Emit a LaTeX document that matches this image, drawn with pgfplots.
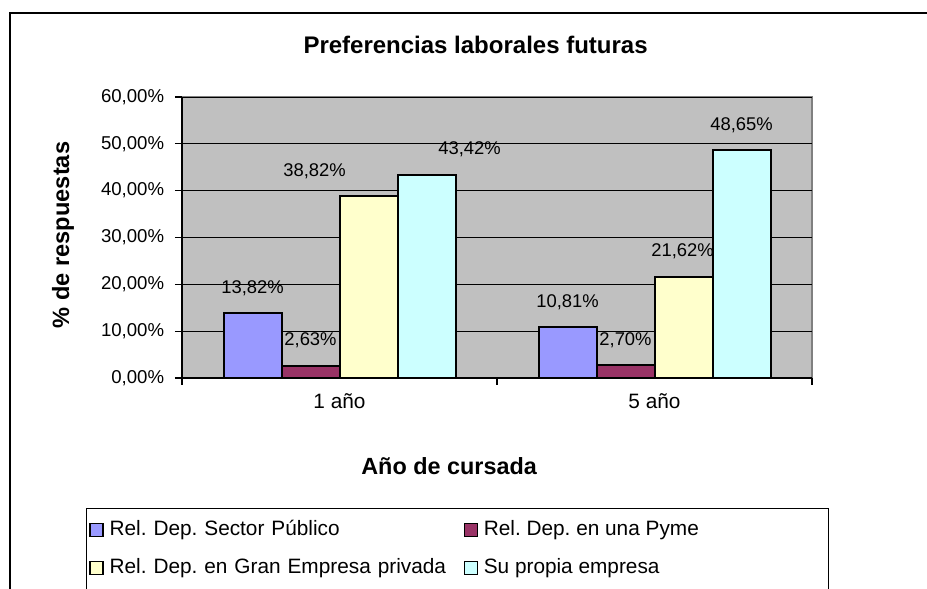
\documentclass[border=0pt]{standalone}
\usepackage{pgfplots}
\usepackage{pgfplotstable}
\pgfplotsset{compat=1.18}
\usepackage{fontspec}
\setmainfont{Liberation Sans}
\definecolor{serA}{HTML}{9999FF}
\definecolor{serB}{HTML}{993366}
\definecolor{serC}{HTML}{FFFFCC}
\definecolor{serD}{HTML}{CCFFFF}
\definecolor{plotbg}{HTML}{C0C0C0}

\pgfplotstableread{
x y dx
0 13.82 0
1 10.81 0
}\tabA
\pgfplotstableread{
x y dx
0 2.63 0
1 2.70 0
}\tabB
\pgfplotstableread{
x y dx
0 38.82 -27
1 21.62 -0.5
}\tabC
\pgfplotstableread{
x y dx
0 43.42 21.5
1 48.65 0
}\tabD

\begin{document}
\frenchspacing
\begin{tikzpicture}
\useasboundingbox (0,0) rectangle (463.5pt,294.5pt);
\draw[line width=1pt] (5pt,-10pt) -- (5pt,288pt) -- (480pt,288pt);
\draw[line width=0.5pt] (43pt,-10pt) -- (43pt,40pt) -- (414pt,40pt) -- (414pt,-10pt);
\begin{axis}[
  at={(91pt,105.5pt)}, anchor=south west,
  scale only axis, width=315pt, height=140.5pt,
  xmin=-0.5, xmax=1.5, ymin=0, ymax=60,
  ybar=0pt, bar width=29pt,
  axis lines*=left,
  axis line style={-, black, line width=0.6pt},
  axis background/.style={fill=plotbg, draw=gray, line width=0.8pt},
  ytick={0,10,20,30,40,50,60},
  yticklabels={{0,00\%},{10,00\%},{20,00\%},{30,00\%},{40,00\%},{50,00\%},{60,00\%}},
  tick align=outside, major tick length=3.5pt,
  tick style={black, line width=0.6pt},
  xtick={-0.5,0.5,1.5}, xticklabels={},
  extra x ticks={0,1}, extra x tick labels={1 año,5 año},
  extra x tick style={major tick length=0pt},
  ymajorgrids, major grid style={black, line width=0.5pt},
  yticklabel style={font=\fontsize{9.3}{11}\selectfont, xshift=-1.9pt},
  xticklabel style={font=\fontsize{10.4}{12}\selectfont, yshift=-4.5pt},
  ylabel={\% de respuestas},
  ylabel style={at={(axis description cs:-0.189,0.509)}, anchor=center, font=\bfseries\fontsize{11.8}{14}\selectfont},
  xlabel={Año de cursada},
  xlabel style={at={(axis description cs:0.424,-0.313)}, anchor=center, font=\bfseries\fontsize{11.7}{14}\selectfont},
  title={Preferencias laborales futuras},
  every axis title shift=0pt,
  title style={at={(axis description cs:0.466,1.185)}, anchor=center, font=\bfseries\fontsize{12}{14}\selectfont},
  /pgf/number format/assume math mode=true,
  nodes near coords={\pgfmathprintnumber[fixed,zerofill,precision=2,use comma]{\pgfplotspointmeta}\%},
  visualization depends on={\thisrow{dx} \as \dx},
  nodes near coords style={anchor=center, yshift=12.5pt, xshift=\dx pt, font=\fontsize{9.2}{11}\selectfont, black},
  legend columns=2,
  legend cell align=left,
  legend style={at={(axis description cs:-0.1476,-0.5068)}, anchor=north west, draw=none, fill=none, inner sep=0pt,
    font=\fontsize{10.4}{12}\selectfont, row sep=9.5pt,
    nodes={inner sep=0pt, text height=7.5pt, text depth=2pt},
    /tikz/every odd column/.append style={column sep=3pt},
    /tikz/column 2/.style={nodes={text width=177pt}}},
  legend image code/.code={\draw[#1, line width=0.6pt] (0pt,-3.25pt) rectangle (6.5pt,3.25pt);},
]
\addplot[fill=serA, draw=black, line width=1pt] table[x=x,y=y] {\tabA};
\addlegendentry{Rel. Dep. Sector Público}
\addplot[fill=serB, draw=black, line width=1pt] table[x=x,y=y] {\tabB};
\addlegendentry{Rel. Dep. en una Pyme}
\addplot[fill=serC, draw=black, line width=1pt] table[x=x,y=y] {\tabC};
\addlegendentry{Rel. Dep. en Gran Empresa privada}
\addplot[fill=serD, draw=black, line width=1pt] table[x=x,y=y] {\tabD};
\addlegendentry{Su propia empresa}
\end{axis}
\end{tikzpicture}
\end{document}
